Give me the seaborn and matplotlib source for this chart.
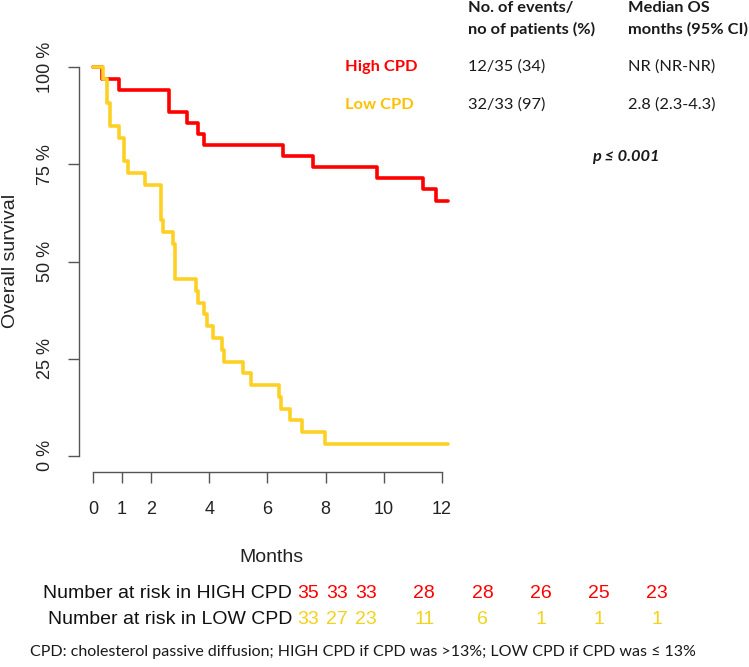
import numpy as np
import pandas as pd
import matplotlib
matplotlib.use("Agg")
import matplotlib.pyplot as plt
import matplotlib.transforms as mtransforms
import seaborn as sns

# ---- data ----
high_time = [0.0, 0.30, 0.90, 2.62, 3.22, 3.62, 3.82, 6.54, 7.58, 9.75, 11.34, 11.80, 12.2]
high_surv = [1.0, 0.971, 0.943, 0.886, 0.857, 0.829, 0.800, 0.771, 0.743, 0.714, 0.686, 0.657, 0.657]
low_time = [0.0, 0.36, 0.47, 0.60, 0.90, 1.08, 1.20, 1.79, 2.34, 2.42, 2.74, 2.82, 3.54,
            3.62, 3.82, 3.91, 4.14, 4.45, 4.52, 5.15, 5.43, 6.38, 6.46, 6.77, 7.17, 7.98, 12.2]
low_surv = [1.0, 0.970, 0.909, 0.848, 0.818, 0.758, 0.727, 0.697, 0.606, 0.576, 0.545, 0.455, 0.424,
            0.394, 0.364, 0.333, 0.303, 0.273, 0.242, 0.212, 0.182, 0.152, 0.121, 0.091, 0.061, 0.030, 0.030]
groups = ["High CPD", "Low CPD"]
risk_times = [0, 1, 2, 4, 6, 8, 10, 12]
risk_high = [35, 33, 33, 28, 28, 26, 25, 23]
risk_low = [33, 27, 23, 11, 6, 1, 1, 1]
x_ticks = [0, 1, 2, 4, 6, 8, 10, 12]
y_ticks = [0, 0.25, 0.5, 0.75, 1.0]
y_ticklabels = ["0 %", "25 %", "50 %", "75 %", "100 %"]
events = ["12/35 (34)", "32/33 (97)"]
medians = ["NR (NR-NR)", "2.8 (2.3-4.3)"]

RED = "#FF0000"
YEL = "#FDD023"
YEL_TXT = "#FFC000"
YEL_NUM = "#F2D21B"

sns.set_theme(style="white")
plt.rcParams["font.family"] = ["Liberation Sans", "DejaVu Sans"]

W, H = 749, 667
fig = plt.figure(figsize=(W / 100, H / 100), dpi=100)
ax = fig.add_axes([79 / W, 1 - 472 / H, (450 - 79) / W, (472 - 60) / H])

df = pd.concat([
    pd.DataFrame({"time": high_time, "surv": high_surv, "group": groups[0]}),
    pd.DataFrame({"time": low_time, "surv": low_surv, "group": groups[1]}),
], ignore_index=True)

sns.lineplot(data=df, x="time", y="surv", hue="group", hue_order=groups,
             palette={groups[0]: RED, groups[1]: YEL}, drawstyle="steps-post",
             estimator=None, sort=False, linewidth=2.6, legend=False, ax=ax)

ax.set_xlim(-0.4814, 12.276)
ax.set_ylim(-0.04198, 1.01906)
for s in ["top", "right"]:
    ax.spines[s].set_visible(False)
for s in ["left", "bottom"]:
    ax.spines[s].set_color("#555555")
    ax.spines[s].set_linewidth(1.0)
ax.spines["left"].set_bounds(0, 1)
ax.spines["bottom"].set_bounds(0, 12)
ax.set_xticks(x_ticks)
ax.set_xticklabels([str(t) for t in x_ticks])
ax.set_yticks(y_ticks)
ax.set_yticklabels(y_ticklabels, rotation=90, va="center")
ax.tick_params(axis="both", bottom=True, left=True, direction="out", length=8,
               width=1, color="#555555", labelsize=13, labelcolor="#222222")
ax.tick_params(axis="x", pad=13)
ax.tick_params(axis="y", pad=10)
ax.set_xlabel("")
ax.set_ylabel("")

fig.text(11 / W, 1 - 261 / H, "Overall survival", rotation=90, ha="center", va="center",
         fontsize=14, color="#222222")
fig.text(271 / W, 1 - 557 / H, "Months", ha="center", va="center", fontsize=14, color="#222222")

# number at risk
fig.text(292 / W, 1 - 594 / H, "Number at risk in HIGH CPD", ha="right", va="center",
         fontsize=14, color="#111111")
fig.text(292 / W, 1 - 619 / H, "Number at risk in LOW CPD", ha="right", va="center",
         fontsize=14, color="#111111")
offset = mtransforms.ScaledTranslation((308 - 93) / 100, 0, fig.dpi_scale_trans)
trans = mtransforms.blended_transform_factory(ax.transData + offset, fig.transFigure)
for t, n in zip(risk_times, risk_high):
    ax.text(t, 1 - 594 / H, str(n), transform=trans, ha="center", va="center",
            fontsize=14, color=RED, clip_on=False)
for t, n in zip(risk_times, risk_low):
    ax.text(t, 1 - 619 / H, str(n), transform=trans, ha="center", va="center",
            fontsize=14, color=YEL_NUM, clip_on=False)

# top table
CAL = ["Lato", "DejaVu Sans"]
FS = 11.8
fig.text(468 / W, 1 - 8 / H, "No. of events/", ha="left", va="center", fontsize=FS,
         fontweight="bold", family=CAL, color="#1a1a1a")
fig.text(468 / W, 1 - 29 / H, "no of patients (%)", ha="left", va="center", fontsize=FS,
         fontweight="bold", family=CAL, color="#1a1a1a")
fig.text(628 / W, 1 - 8 / H, "Median OS", ha="left", va="center", fontsize=FS,
         fontweight="bold", family=CAL, color="#1a1a1a")
fig.text(628 / W, 1 - 29 / H, "months (95% CI)", ha="left", va="center", fontsize=FS,
         fontweight="bold", family=CAL, color="#1a1a1a")
row_y = [67, 105]
row_col = [RED, YEL_TXT]
for g, e, m, yy, c in zip(groups, events, medians, row_y, row_col):
    fig.text(345 / W, 1 - yy / H, g, ha="left", va="center", fontsize=FS,
             fontweight="bold", family=CAL, color=c)
    fig.text(468 / W, 1 - yy / H, e, ha="left", va="center", fontsize=FS,
             family=CAL, color="#1a1a1a")
    fig.text(628 / W, 1 - yy / H, m, ha="left", va="center", fontsize=FS,
             family=CAL, color="#1a1a1a")
fig.text(592 / W, 1 - 157 / H, "p ≤ 0.001", ha="left", va="center", fontsize=FS,
         fontweight="bold", fontstyle="italic", family=CAL, color="#1a1a1a")

fig.text(30 / W, 1 - 652 / H,
         "CPD: cholesterol passive diffusion; HIGH CPD if CPD was >13%; LOW CPD if CPD was ≤ 13%",
         ha="left", va="center", fontsize=11.5, family=CAL, color="#1a1a1a")

fig.savefig("out.png", dpi=100, facecolor="white")
